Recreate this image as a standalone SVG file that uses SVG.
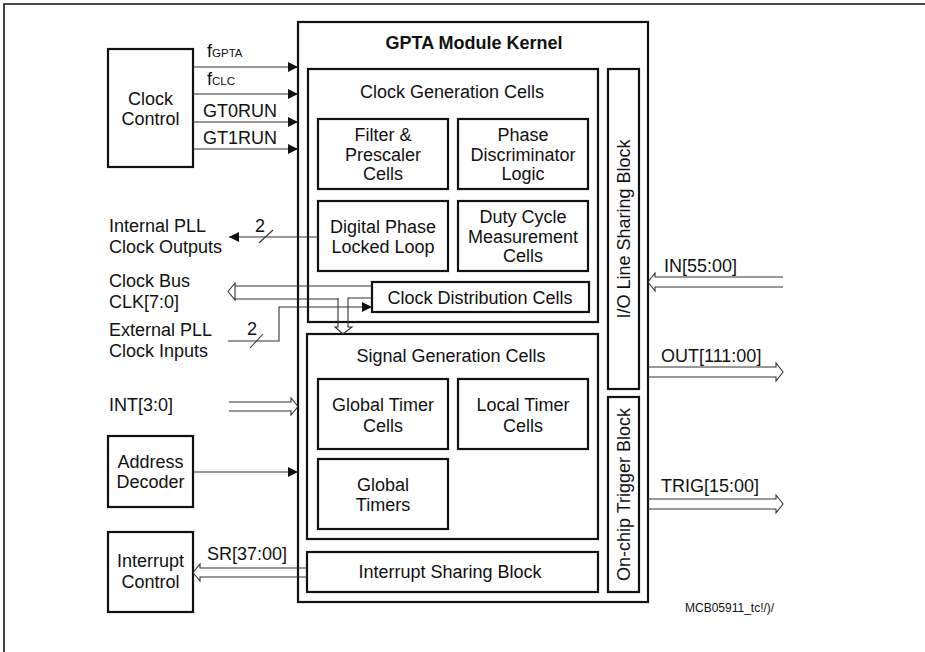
<svg xmlns="http://www.w3.org/2000/svg" width="925" height="652" viewBox="0 0 925 652">
<style>
text{font-family:"Liberation Sans",Arial,sans-serif;font-size:18px;fill:#111}
.c{text-anchor:middle}
.b{font-weight:bold}
.box{fill:#fff;stroke:#111;stroke-width:2.2}
.ln{fill:none;stroke:#333;stroke-width:1.1}
.bus{fill:none;stroke:#333;stroke-width:1.1}
.sub{font-size:11.5px}
.sm{font-size:12px}
</style>
<defs>
<marker id="ah" viewBox="0 0 10 10" refX="10" refY="5" markerWidth="11" markerHeight="10" markerUnits="userSpaceOnUse" orient="auto">
<path d="M0,0 L10,5 L0,10 z" fill="#111"/>
</marker>
</defs>
<rect width="925" height="652" fill="#fff"/>
<path d="M4,652 V4 H925" fill="none" stroke="#111" stroke-width="1.6"/>

<g id="kernel">
<rect class="box" x="298" y="22" width="350" height="580"/>
<text class="c b" x="474" y="49">GPTA Module Kernel</text>
</g>
<g id="clock-gen">
<rect class="box" x="308" y="69" width="290" height="253"/>
<text class="c" x="452" y="98">Clock Generation Cells</text>
</g>
<g id="filter">
<rect class="box" x="318" y="119" width="130" height="70"/>
<text class="c" x="383" y="141">Filter &amp;</text>
<text class="c" x="383" y="161">Prescaler</text>
<text class="c" x="383" y="180">Cells</text>
</g>
<g id="phase-disc">
<rect class="box" x="458" y="119" width="130" height="70"/>
<text class="c" x="523" y="141">Phase</text>
<text class="c" x="523" y="161">Discriminator</text>
<text class="c" x="523" y="180">Logic</text>
</g>
<g id="dpll">
<rect class="box" x="318" y="201" width="130" height="70"/>
<text class="c" x="383" y="233">Digital Phase</text>
<text class="c" x="383" y="253">Locked Loop</text>
</g>
<g id="duty">
<rect class="box" x="458" y="201" width="130" height="70"/>
<text class="c" x="523" y="223">Duty Cycle</text>
<text class="c" x="523" y="243">Measurement</text>
<text class="c" x="523" y="262">Cells</text>
</g>
<g id="clock-dist">
<rect class="box" x="372" y="282" width="217" height="30"/>
<text class="c" x="480" y="304">Clock Distribution Cells</text>
</g>
<g id="signal-gen">
<rect class="box" x="307" y="334" width="291" height="205"/>
<text class="c" x="451" y="362">Signal Generation Cells</text>
</g>
<g id="gtc">
<rect class="box" x="318" y="379" width="130" height="70"/>
<text class="c" x="383" y="411">Global Timer</text>
<text class="c" x="383" y="432">Cells</text>
</g>
<g id="ltc">
<rect class="box" x="458" y="379" width="130" height="70"/>
<text class="c" x="523" y="411">Local Timer</text>
<text class="c" x="523" y="432">Cells</text>
</g>
<g id="gt">
<rect class="box" x="318" y="459" width="130" height="70"/>
<text class="c" x="383" y="491">Global</text>
<text class="c" x="383" y="511">Timers</text>
</g>
<g id="int-share">
<rect class="box" x="307" y="552" width="291" height="40"/>
<text class="c" x="450" y="578">Interrupt Sharing Block</text>
</g>
<g id="io-share">
<rect class="box" x="608" y="69" width="31" height="320"/>
<text class="c" transform="translate(630,229) rotate(-90)">I/O Line Sharing Block</text>
</g>
<g id="trigger">
<rect class="box" x="608" y="397" width="31" height="195"/>
<text class="c" transform="translate(630,494.5) rotate(-90)">On-chip Trigger Block</text>
</g>
<g id="clock-control">
<rect class="box" x="108" y="49" width="85" height="118"/>
<text class="c" x="150.5" y="105">Clock</text>
<text class="c" x="150.5" y="125">Control</text>
</g>
<g id="addr-dec">
<rect class="box" x="108" y="436" width="85" height="71"/>
<text class="c" x="150.5" y="468">Address</text>
<text class="c" x="150.5" y="488">Decoder</text>
</g>
<g id="int-ctrl">
<rect class="box" x="108" y="532" width="85" height="80"/>
<text class="c" x="150.5" y="567">Interrupt</text>
<text class="c" x="150.5" y="588">Control</text>
</g>

<g id="connectors">
<line class="ln" x1="193" y1="67" x2="298" y2="67" marker-end="url(#ah)"/>
<line class="ln" x1="193" y1="94" x2="298" y2="94" marker-end="url(#ah)"/>
<line class="ln" x1="193" y1="122" x2="298" y2="122" marker-end="url(#ah)"/>
<line class="ln" x1="193" y1="149" x2="298" y2="149" marker-end="url(#ah)"/>
<line class="ln" x1="318" y1="237" x2="229" y2="237" marker-end="url(#ah)"/>
<line class="ln" x1="259" y1="243" x2="273" y2="230"/>
<path class="bus" d="M338,299 H235 V283 L228,291.5 L235,300 V297"/>
<path class="bus" d="M372,286 H235"/>
<path class="bus" d="M372,298 H348 V327 H352 L343,334 L335,327 H338 V298"/>
<path class="ln" d="M228,341 H279 V307 H372" marker-end="url(#ah)"/>
<line class="ln" x1="250" y1="348" x2="263" y2="334"/>
<path class="bus" d="M229,402 H291 V398 L298,406.5 L291,415 V411 H229"/>
<line class="ln" x1="193" y1="472" x2="298" y2="472" marker-end="url(#ah)"/>
<path class="bus" d="M307,568 H200 V564 L193,572.5 L200,581 V577 H307"/>
<path class="bus" d="M783,277 H655 V273 L648,282 L655,291 V287 H783"/>
<path class="bus" d="M648,367 H776 V363 L783,372 L776,381 V377 H648"/>
<path class="bus" d="M648,499 H776 V495 L783,504 L776,513 V509 H648"/>
</g>

<g id="labels">
<text x="207" y="57">f<tspan class="sub">GPTA</tspan></text>
<text x="207" y="85">f<tspan class="sub">CLC</tspan></text>
<text x="203" y="117">GT0RUN</text>
<text x="203" y="144">GT1RUN</text>
<text x="109" y="232">Internal PLL</text>
<text x="109" y="253">Clock Outputs</text>
<text x="255" y="232">2</text>
<text x="109" y="287">Clock Bus</text>
<text x="109" y="308">CLK[7:0]</text>
<text x="109" y="336">External PLL</text>
<text x="109" y="357">Clock Inputs</text>
<text x="247" y="335">2</text>
<text x="109" y="411">INT[3:0]</text>
<text x="207" y="560">SR[37:00]</text>
<text x="664" y="272">IN[55:00]</text>
<text x="661" y="362">OUT[111:00]</text>
<text x="661" y="492">TRIG[15:00]</text>
<text class="sm" x="685" y="612">MCB05911_tc!/)/</text>
</g>
</svg>
